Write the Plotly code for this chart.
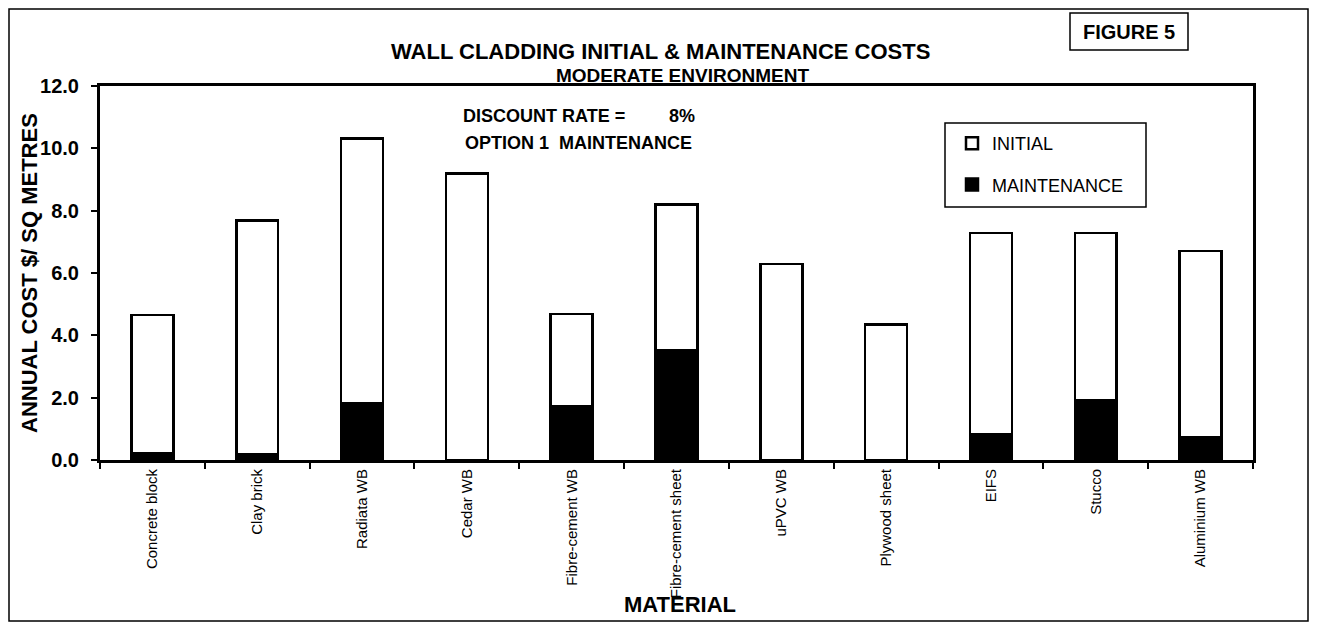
import plotly.graph_objects as go

# ---- data ----
categories = ["Concrete block", "Clay brick", "Radiata WB", "Cedar WB", "Fibre-cement WB",
              "Fibre-cement sheet", "uPVC WB", "Plywood sheet", "EIFS", "Stucco", "Aluminium WB"]
maintenance = [0.22, 0.19, 1.82, 0.0, 1.72, 3.51, 0.0, 0.0, 0.83, 1.91, 0.73]
initial = [4.44, 7.50, 8.49, 9.19, 2.97, 4.69, 6.29, 4.34, 6.45, 5.37, 5.97]
y_ticks = [0, 2, 4, 6, 8, 10, 12]

OFF = 8  # default page body margin
W, H = 1318 - 2 * OFF, 631 - 2 * OFF  # fit the viewport without scrollbars
# target plot area in page pixels: x 100..1253, y 86..460
L, T = 100 - OFF, 86 - OFF
R = W - (1253 - OFF)
B = H - (460 - OFF)
PW, PH = W - L - R, H - T - B
FONT = "Arial, Liberation Sans, sans-serif"


def xp(px):
    return (px - OFF - L) / PW


def yp(py):
    return (H - B - (py - OFF)) / PH


fig = go.Figure()
fig.add_trace(go.Bar(
    x=categories, y=maintenance, name="MAINTENANCE", width=0.4,
    marker=dict(color="black", line=dict(color="black", width=2.5)),
    legendgroup="m", legendrank=2,
))
fig.add_trace(go.Bar(
    x=categories, y=initial, name="INITIAL", width=0.4,
    marker=dict(color="white", line=dict(color="black", width=2.5)),
    legendgroup="i", legendrank=1,
))

annotations = [
    dict(text="WALL CLADDING INITIAL & MAINTENANCE COSTS", x=xp(660), y=yp(51),
         font=dict(size=22, weight=700)),
    dict(text="MODERATE ENVIRONMENT", x=xp(682), y=yp(75), font=dict(size=19, weight=700)),
    dict(text="DISCOUNT RATE =", x=xp(461), y=yp(116), xanchor="left",
         font=dict(size=18, weight=700)),
    dict(text="8%", x=xp(667), y=yp(116), xanchor="left", font=dict(size=18, weight=700)),
    dict(text="OPTION 1\u00a0 MAINTENANCE", x=xp(463), y=yp(143), xanchor="left",
         font=dict(size=18, weight=700)),
    dict(text="FIGURE 5", x=xp(1129), y=yp(32), font=dict(size=20, weight=700)),
    dict(text="ANNUAL COST $/ SQ METRES", x=xp(29), y=yp(273), textangle=-90,
         font=dict(size=22, weight=700)),
    dict(text="MATERIAL", x=xp(680), y=yp(604), font=dict(size=22, weight=700)),
]
for a in annotations:
    a.setdefault("xanchor", "center")
    a.update(xref="paper", yref="paper", yanchor="middle", showarrow=False)
    a["font"].update(family=FONT, color="black")

shapes = [
    # outer frame
    dict(type="rect", xref="paper", yref="paper", x0=xp(9), x1=xp(1308), y0=yp(621), y1=yp(9),
         line=dict(color="black", width=1.5)),
    # FIGURE 5 box
    dict(type="rect", xref="paper", yref="paper", x0=xp(1070), x1=xp(1188), y0=yp(50), y1=yp(13),
         line=dict(color="black", width=1.5)),
    # legend box
    dict(type="rect", xref="paper", yref="paper", x0=xp(945), x1=xp(1146), y0=yp(207), y1=yp(123),
         line=dict(color="black", width=1.5)),
]

fig.update_layout(
    width=W, height=H, barmode="stack", autosize=False,
    margin=dict(l=L, r=R, t=T, b=B, autoexpand=False),
    paper_bgcolor="white", plot_bgcolor="white",
    font=dict(family=FONT, color="black"),
    showlegend=True,
    legend=dict(xref="paper", yref="paper", x=xp(952), y=yp(125),
                xanchor="left", yanchor="top", traceorder="grouped",
                bgcolor="rgba(0,0,0,0)", borderwidth=0, tracegroupgap=15,
                font=dict(size=18, family=FONT, color="black")),
    annotations=annotations, shapes=shapes,
)
fig.update_xaxes(type="category", showline=True, linewidth=3, linecolor="black", mirror=True,
                 ticks="outside", tickson="boundaries", ticklen=6, tickwidth=1.5,
                 tickcolor="black", tickangle=-90, tickfont=dict(size=15, family=FONT),
                 showgrid=False, automargin=False)
fig.update_yaxes(range=[0, 12], tickvals=y_ticks, tickformat=".1f", showline=True,
                 linewidth=3, linecolor="black", mirror=True, ticks="outside", ticklen=6,
                 tickwidth=1.5, tickcolor="black", showgrid=False, zeroline=False,
                 tickfont=dict(size=20, weight=700, family=FONT), ticklabelstandoff=8,
                 automargin=False)

fig.write_html("out.html")
